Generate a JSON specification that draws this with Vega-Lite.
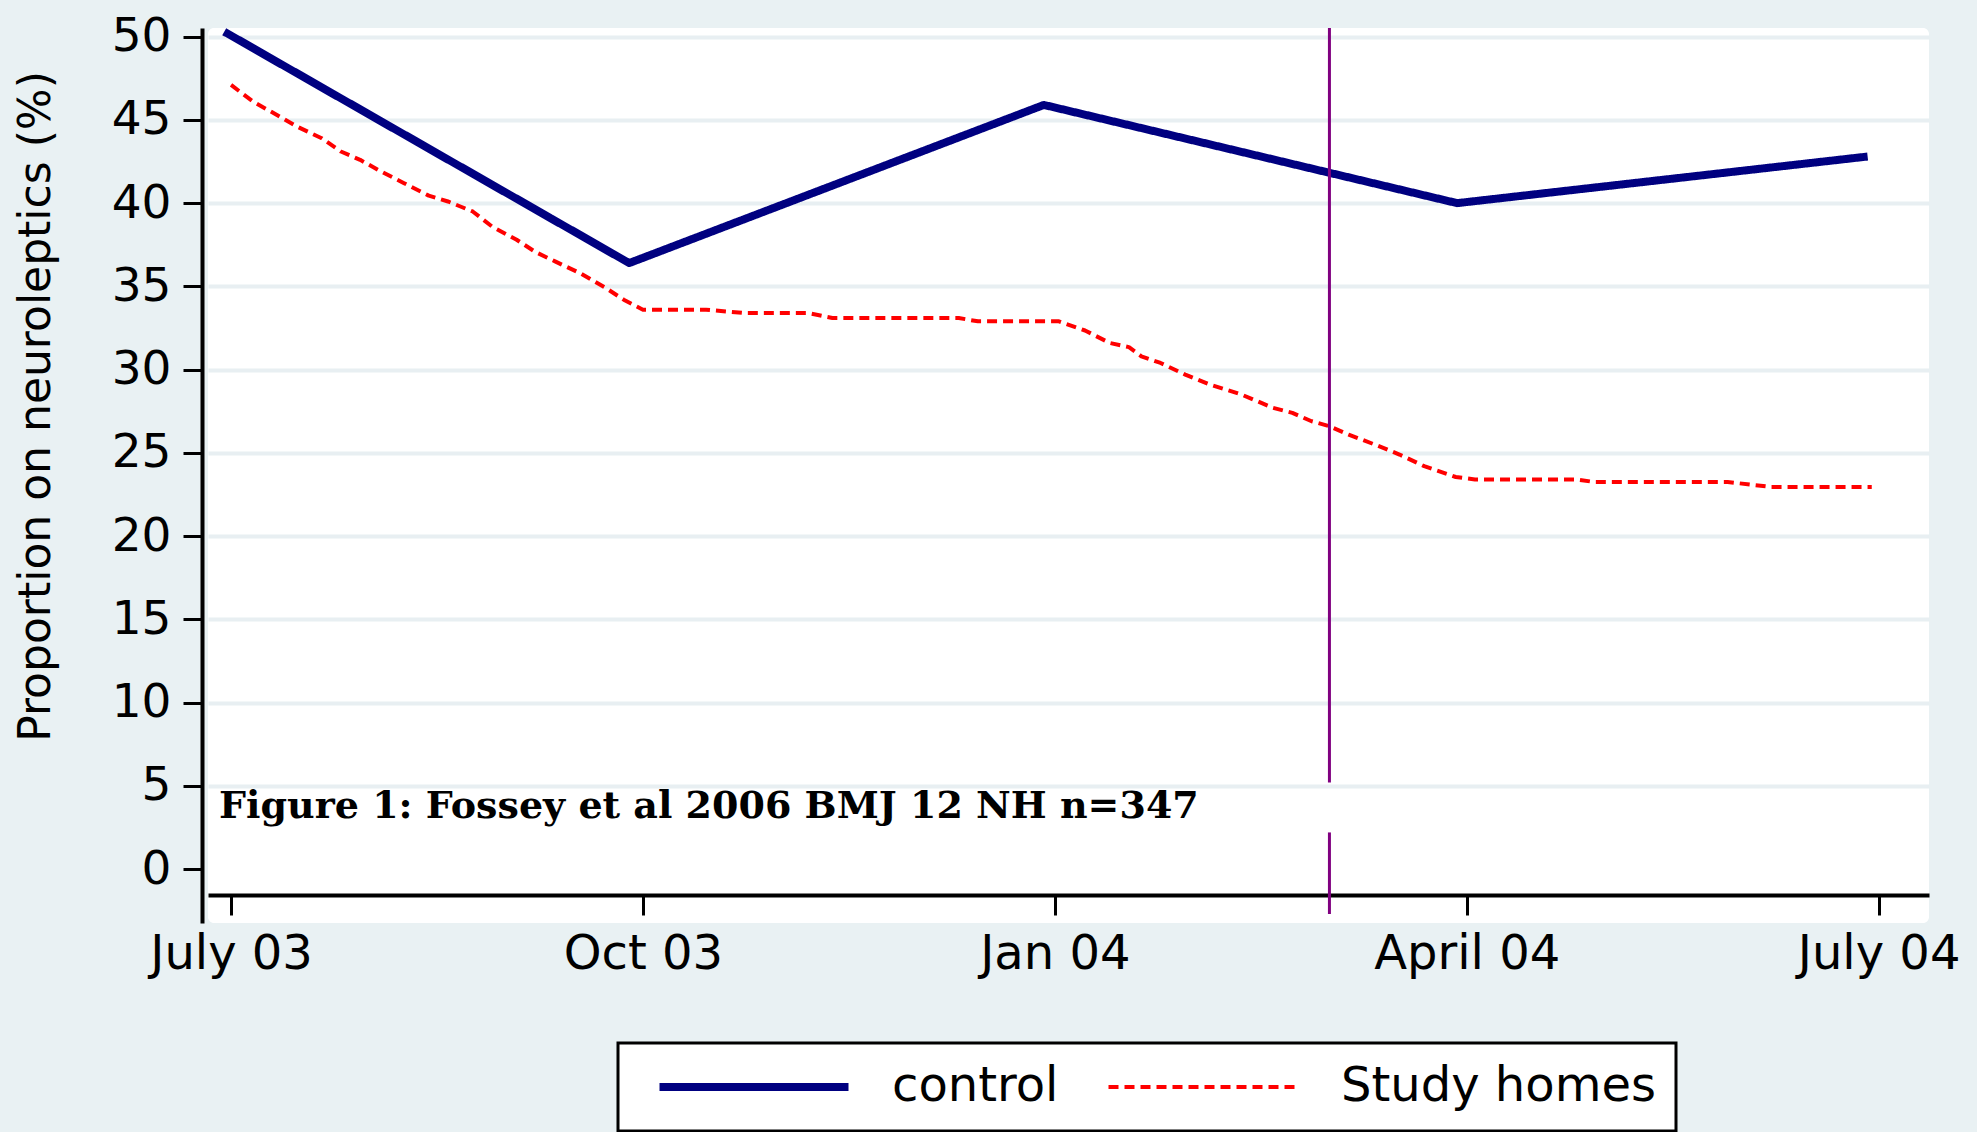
{
  "$schema": "https://vega.github.io/schema/vega-lite/v6.json",
  "width": 1721,
  "height": 895,
  "autosize": {"type": "none"},
  "padding": {"left": 208, "top": 28, "right": 48, "bottom": 209},
  "background": "#e9f1f3",
  "config": {
    "view": {"fill": "white", "stroke": null, "cornerRadius": 6},
    "legend": {
      "labelFont": "DejaVu Sans",
      "labelFontSize": 48,
      "labelColor": "black",
      "labelLimit": 600,
      "symbolType": "M-7.875,0H7.875",
      "symbolSize": 576,
      "symbolOffset": 92,
      "padding": 20,
      "fillColor": "white",
      "strokeColor": "black",
      "strokeWidth": 3,
      "columnPadding": 28,
      "labelOffset": 114,
      "cornerRadius": 0
    }
  },
  "datasets": {
    "series": [
      {"series": "control", "month": -0.05, "value": 50.3},
      {"series": "control", "month": 2.9, "value": 36.4},
      {"series": "control", "month": 5.92, "value": 45.9},
      {"series": "control", "month": 8.93, "value": 40.0},
      {"series": "control", "month": 11.92, "value": 42.8},
      {"series": "Study homes", "month": 0.0, "value": 47.1},
      {"series": "Study homes", "month": 0.16, "value": 46.1},
      {"series": "Study homes", "month": 0.29, "value": 45.5},
      {"series": "Study homes", "month": 0.48, "value": 44.6},
      {"series": "Study homes", "month": 0.66, "value": 43.9},
      {"series": "Study homes", "month": 0.8, "value": 43.1},
      {"series": "Study homes", "month": 0.94, "value": 42.6},
      {"series": "Study homes", "month": 1.07, "value": 42.0},
      {"series": "Study homes", "month": 1.26, "value": 41.2},
      {"series": "Study homes", "month": 1.44, "value": 40.45},
      {"series": "Study homes", "month": 1.58, "value": 40.1},
      {"series": "Study homes", "month": 1.76, "value": 39.5},
      {"series": "Study homes", "month": 1.9, "value": 38.6},
      {"series": "Study homes", "month": 2.08, "value": 37.8},
      {"series": "Study homes", "month": 2.22, "value": 37.05},
      {"series": "Study homes", "month": 2.36, "value": 36.5},
      {"series": "Study homes", "month": 2.54, "value": 35.8},
      {"series": "Study homes", "month": 2.73, "value": 34.9},
      {"series": "Study homes", "month": 2.86, "value": 34.2},
      {"series": "Study homes", "month": 3.0, "value": 33.6},
      {"series": "Study homes", "month": 3.46, "value": 33.6},
      {"series": "Study homes", "month": 3.74, "value": 33.4},
      {"series": "Study homes", "month": 4.2, "value": 33.4},
      {"series": "Study homes", "month": 4.38, "value": 33.1},
      {"series": "Study homes", "month": 5.3, "value": 33.1},
      {"series": "Study homes", "month": 5.44, "value": 32.9},
      {"series": "Study homes", "month": 6.03, "value": 32.9},
      {"series": "Study homes", "month": 6.22, "value": 32.35},
      {"series": "Study homes", "month": 6.4, "value": 31.6},
      {"series": "Study homes", "month": 6.54, "value": 31.35},
      {"series": "Study homes", "month": 6.63, "value": 30.8},
      {"series": "Study homes", "month": 6.77, "value": 30.4},
      {"series": "Study homes", "month": 6.95, "value": 29.7},
      {"series": "Study homes", "month": 7.13, "value": 29.1},
      {"series": "Study homes", "month": 7.36, "value": 28.5},
      {"series": "Study homes", "month": 7.59, "value": 27.7},
      {"series": "Study homes", "month": 7.73, "value": 27.4},
      {"series": "Study homes", "month": 7.87, "value": 26.9},
      {"series": "Study homes", "month": 8.0, "value": 26.6},
      {"series": "Study homes", "month": 8.14, "value": 26.1},
      {"series": "Study homes", "month": 8.33, "value": 25.5},
      {"series": "Study homes", "month": 8.51, "value": 24.9},
      {"series": "Study homes", "month": 8.69, "value": 24.2},
      {"series": "Study homes", "month": 8.92, "value": 23.55},
      {"series": "Study homes", "month": 9.06, "value": 23.4},
      {"series": "Study homes", "month": 9.8, "value": 23.4},
      {"series": "Study homes", "month": 9.93, "value": 23.25},
      {"series": "Study homes", "month": 10.9, "value": 23.25},
      {"series": "Study homes", "month": 11.22, "value": 22.95},
      {"series": "Study homes", "month": 11.95, "value": 22.95}
    ],
    "vline": [
      {"month": 8.0, "lo": 5.2, "hi": 50.52},
      {"month": 8.0, "lo": -2.7, "hi": 2.2}
    ],
    "note": [
      {"month": -0.087, "value": 3.72, "text": "Figure 1: Fossey et al 2006 BMJ  12 NH n=347"}
    ]
  },
  "layer": [
    {
      "data": {"name": "series"},
      "mark": {"type": "line", "strokeJoin": "round"},
      "encoding": {
        "x": {
          "field": "month",
          "type": "quantitative",
          "scale": {"domain": [-0.168, 12.367], "nice": false, "zero": false},
          "axis": {
            "values": [0, 3, 6, 9, 12],
            "labelExpr": "['July 03','Oct 03','Jan 04','April 04','July 04'][round(datum.value/3)]",
            "title": null,
            "offset": -28,
            "grid": false,
            "tickSize": 20,
            "tickWidth": 3,
            "tickColor": "black",
            "domainColor": "black",
            "domainWidth": 4,
            "labelFont": "DejaVu Sans",
            "labelFontSize": 48,
            "labelColor": "black",
            "labelPadding": 15,
            "labelLimit": 600,
            "labelFlush": false,
            "labelOverlap": false,
            "labelBound": false
          }
        },
        "y": {
          "field": "value",
          "type": "quantitative",
          "scale": {"domain": [-3.24, 50.52], "nice": false, "zero": false},
          "axis": {
            "values": [0, 5, 10, 15, 20, 25, 30, 35, 40, 45, 50],
            "title": "Proportion on neuroleptics (%)",
            "offset": 6,
            "tickSize": 19,
            "tickWidth": 3,
            "tickColor": "black",
            "domainColor": "black",
            "domainWidth": 4,
            "labelFont": "DejaVu Sans",
            "labelFontSize": 47,
            "labelColor": "black",
            "labelPadding": 12,
            "labelOverlap": false,
            "labelBound": false,
            "labelFlush": false,
            "grid": true,
            "gridColor": "#e8eff2",
            "gridWidth": 4,
            "gridOpacity": {"condition": {"test": "datum.value == 0", "value": 0}, "value": 1},
            "titleFont": "DejaVu Sans",
            "titleFontSize": 44,
            "titleFontWeight": "normal",
            "titleColor": "black",
            "titleAngle": 270,
            "titleAlign": "center",
            "titleBaseline": "middle",
            "titleX": -166,
            "titleY": 378
          }
        },
        "color": {
          "field": "series",
          "type": "nominal",
          "scale": {"domain": ["control", "Study homes"], "range": ["#000080", "#ff0000"]},
          "legend": {
            "orient": "none",
            "legendX": 410,
            "legendY": 1015,
            "direction": "horizontal",
            "columns": 2,
            "title": null,
            "symbolType": "M-7.875,0H7.875"
          }
        },
        "strokeDash": {
          "field": "series",
          "type": "nominal",
          "scale": {"domain": ["control", "Study homes"], "range": [[1, 0], [10, 6]]},
          "legend": {
            "orient": "none",
            "legendX": 410,
            "legendY": 1015,
            "direction": "horizontal",
            "columns": 2,
            "title": null,
            "symbolType": "M-7.875,0H7.875"
          }
        },
        "strokeWidth": {
          "field": "series",
          "type": "nominal",
          "scale": {"domain": ["control", "Study homes"], "range": [8, 4]},
          "legend": {
            "orient": "none",
            "legendX": 410,
            "legendY": 1015,
            "direction": "horizontal",
            "columns": 2,
            "title": null,
            "symbolType": "M-7.875,0H7.875"
          }
        }
      }
    },
    {
      "data": {"name": "vline"},
      "mark": {"type": "rule", "color": "#800080", "strokeWidth": 3},
      "encoding": {
        "x": {"field": "month", "type": "quantitative"},
        "y": {"field": "lo", "type": "quantitative"},
        "y2": {"field": "hi"}
      }
    },
    {
      "data": {"name": "note"},
      "mark": {
        "type": "text",
        "font": "DejaVu Serif",
        "fontWeight": "bold",
        "fontSize": 38,
        "color": "black",
        "align": "left",
        "baseline": "middle"
      },
      "encoding": {
        "x": {"field": "month", "type": "quantitative"},
        "y": {"field": "value", "type": "quantitative"},
        "text": {"field": "text"}
      }
    }
  ]
}
